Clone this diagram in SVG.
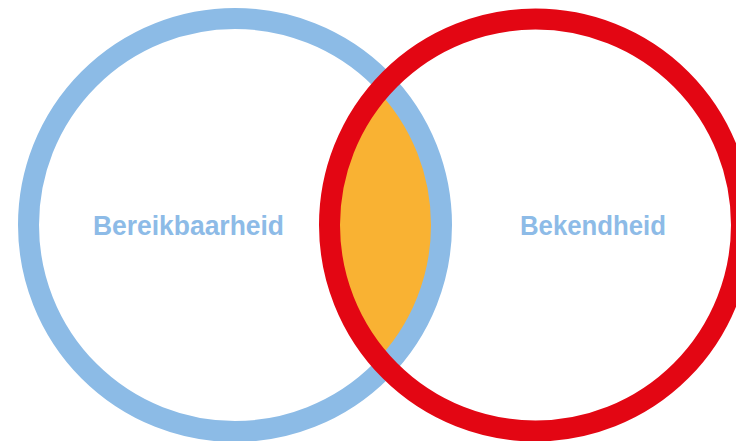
<svg xmlns="http://www.w3.org/2000/svg" width="736" height="441" viewBox="0 0 736 441">
<style>
.lbl{font-family:"Liberation Sans",Arial,sans-serif;font-weight:bold;font-size:27px;fill:#8DBBE7}
</style>
<defs>
<clipPath id="rc"><circle cx="535.5" cy="225" r="206"/></clipPath>
</defs>
<rect width="736" height="441" fill="#fff"/>
<g id="overlap"><circle cx="235" cy="225" r="206.5" fill="#F9B233" clip-path="url(#rc)"/></g>
<g id="bereikbaarheid">
<circle cx="235" cy="225" r="206.5" fill="none" stroke="#8CBBE6" stroke-width="21"/>
<text class="lbl" x="93" y="234.5" textLength="191" lengthAdjust="spacingAndGlyphs">Bereikbaarheid</text>
</g>
<g id="bekendheid">
<circle cx="535.5" cy="225" r="206" fill="none" stroke="#E30613" stroke-width="21"/>
<text class="lbl" x="520" y="234.5" textLength="146" lengthAdjust="spacingAndGlyphs">Bekendheid</text>
</g>
<g id="connectors"/>
</svg>
